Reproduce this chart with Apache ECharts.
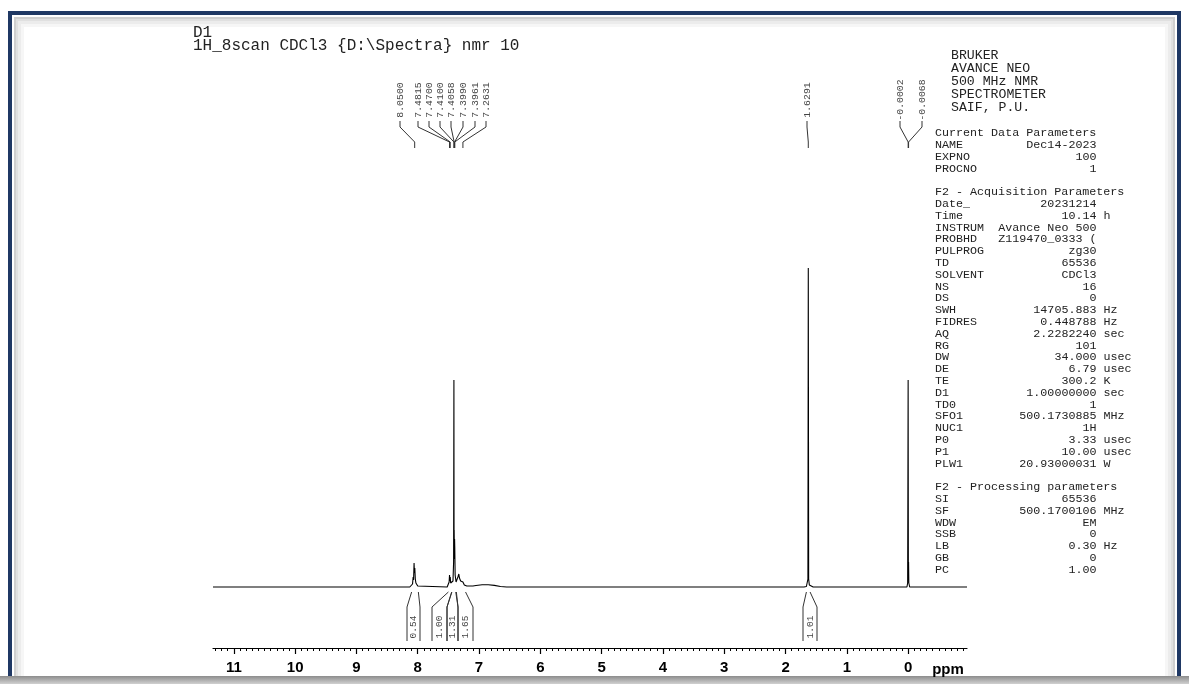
<!DOCTYPE html>
<html><head><meta charset="utf-8">
<script src="https://cdn.jsdelivr.net/npm/echarts@6/dist/echarts.min.js"></script>
<style>html,body{margin:0;padding:0;background:#fff;overflow:hidden}#c{width:1189px;height:684px}</style>
</head><body><div id="c"></div>
<script>
// ---------- DATA ----------
const tickValues = [0, 1, 2, 3, 4, 5, 6, 7, 8, 9, 10, 11];
const spectrumPpm = [11.34, 8.13, 8.10, 8.085, 8.075, 8.068, 8.060, 8.054, 8.048, 8.040, 8.030, 8.015, 8.00, 7.97,
  7.52, 7.50, 7.488, 7.4815, 7.476, 7.47, 7.463, 7.44, 7.425, 7.415, 7.4100, 7.4075, 7.4058, 7.402, 7.3990, 7.3961, 7.390, 7.375,
  7.36, 7.345, 7.33, 7.32, 7.30, 7.2631, 7.24, 7.20, 7.10, 7.05, 6.95, 6.85, 6.75, 6.65, 6.55,
  1.70, 1.66, 1.645, 1.635, 1.6291, 1.623, 1.612, 1.59, 1.55,
  0.92, 0.905, 0.89, 0.12, 0.105, 0.09, 0.02, 0.008, 0.0002, -0.0035, -0.0068, -0.011, -0.025, -0.96];
const spectrumInt = [0, 0, 1, 3, 10, 7, 24, 14, 19, 8, 4, 2, 1, 0,
  0, 1, 5, 12, 6, 10, 4, 3, 6, 25, 207, 45, 57, 28, 48, 40, 12, 5,
  6, 10, 13, 9, 6, 5, 2, 1, 1, 1.5, 2.2, 2.2, 1.6, 0.5, 0,
  0, 0.5, 2, 8, 319, 8, 2, 0.3, 0,
  0, 2, 0, 0, 1.5, 0, 0, 4, 207, 10, 25, 4, 0, 0];
const peakShifts = [8.0500, 7.4815, 7.4700, 7.4100, 7.4058, 7.3990, 7.3961, 7.2631, 1.6291, -0.0002, -0.0068];
const peakLabels = ['8.0500', '7.4815', '7.4700', '7.4100', '7.4058', '7.3990', '7.3961', '7.2631', '1.6291', '-0.0002', '-0.0068'];
const integralFrom = [8.10, 7.50, 7.445, 7.37, 1.66];
const integralTo = [7.99, 7.445, 7.38, 7.22, 1.60];
const integralValues = ['0.54', '1.00', '1.31', '1.65', '1.01'];
const titleLines = ['D1', '1H_8scan CDCl3 {D:\\Spectra} nmr 10'];
const brukerLines = ['BRUKER', 'AVANCE NEO', '500 MHz NMR', 'SPECTROMETER', 'SAIF, P.U.'];
const currentParams = [['NAME', 'Dec14-2023', ''], ['EXPNO', '100', ''], ['PROCNO', '1', '']];
const acqParams = [['Date_', '20231214', ''], ['Time', '10.14', 'h'], ['INSTRUM', 'Avance Neo 500', ''],
  ['PROBHD', 'Z119470_0333 (', ''], ['PULPROG', 'zg30', ''], ['TD', '65536', ''], ['SOLVENT', 'CDCl3', ''],
  ['NS', '16', ''], ['DS', '0', ''], ['SWH', '14705.883', 'Hz'], ['FIDRES', '0.448788', 'Hz'],
  ['AQ', '2.2282240', 'sec'], ['RG', '101', ''], ['DW', '34.000', 'usec'], ['DE', '6.79', 'usec'],
  ['TE', '300.2', 'K'], ['D1', '1.00000000', 'sec'], ['TD0', '1', ''], ['SFO1', '500.1730885', 'MHz'],
  ['NUC1', '1H', ''], ['P0', '3.33', 'usec'], ['P1', '10.00', 'usec'], ['PLW1', '20.93000031', 'W']];
const procParams = [['SI', '65536', ''], ['SF', '500.1700106', 'MHz'], ['WDW', 'EM', ''], ['SSB', '0', ''],
  ['LB', '0.30', 'Hz'], ['GB', '0', ''], ['PC', '1.00', '']];

// ---------- LAYOUT ----------
const AX_MIN = -0.96, AX_MAX = 11.34;
const GRID_LEFT = 213, GRID_RIGHT = 1189 - 967, GRID_TOP = 60, GRID_BOTTOM = 684 - 648;
const Y_MIN = -61, Y_MAX = 527;
const peakLabelX = [400, 418, 429, 440, 451, 463, 475, 486, 807, 900, 922];
const integralBox = [[407, 420], [432, 447], [447, 458], [458, 473], [803, 817]];
const MONO = '"Liberation Mono", "DejaVu Sans Mono", monospace';

const minorTicks = [];
for (let i = -9; i <= 113; i++) minorTicks.push(i / 10);

const chart = echarts.init(document.getElementById('c'), null, {renderer: 'canvas'});
const option = {
  animation: false,
  backgroundColor: '#ffffff',
  grid: {left: GRID_LEFT, right: GRID_RIGHT, top: GRID_TOP, bottom: GRID_BOTTOM, containLabel: false},
  xAxis: [{
    type: 'value', min: AX_MIN, max: AX_MAX, inverse: true, position: 'bottom',
    axisLine: {show: true, onZero: false, lineStyle: {color: '#000', width: 1.2}},
    axisTick: {show: true, customValues: tickValues, length: 6, lineStyle: {color: '#000', width: 1.2}},
    axisLabel: {show: true, customValues: tickValues, margin: 12, color: '#000',
      fontFamily: '"Liberation Sans", Arial, sans-serif', fontWeight: 'bold', fontSize: 15},
    splitLine: {show: false}
  }, {
    type: 'value', min: AX_MIN, max: AX_MAX, inverse: true, position: 'bottom',
    axisLine: {show: false, onZero: false},
    axisTick: {show: true, customValues: minorTicks, length: 3, lineStyle: {color: '#000', width: 1}},
    axisLabel: {show: false}, splitLine: {show: false}
  }],
  yAxis: {type: 'value', min: Y_MIN, max: Y_MAX, show: false, splitLine: {show: false}},
  series: [{
    type: 'line', xAxisIndex: 0, showSymbol: false, symbol: 'none',
    data: spectrumPpm.map((p, i) => [p, spectrumInt[i]]),
    lineStyle: {color: '#000', width: 1.1}, z: 5
  }]
};
chart.setOption(option);

const px = v => chart.convertToPixel({xAxisIndex: 0}, v);
const g = [];
// frame
const shades = [['#cfcfcf', 15, 2], ['#e0e0e0', 17, 2], ['#ececec', 19.5, 3], ['#f6f6f6', 22.5, 3]];
shades.forEach(s => g.push({type: 'rect', shape: {x: s[1], y: s[1] + 3, width: 1189 - 2 * s[1], height: 700}, style: {fill: null, stroke: s[0], lineWidth: s[2]}, z: 1}));
g.push({type: 'rect', shape: {x: 10, y: 13, width: 1169, height: 700}, style: {fill: null, stroke: '#1f3864', lineWidth: 4}, z: 2});
g.push({type: 'rect', shape: {x: 0, y: 676, width: 1189, height: 8}, style: {fill: new echarts.graphic.LinearGradient(0, 0, 0, 1, [{offset: 0, color: '#8c8c8c'}, {offset: 1, color: '#d0d0d0'}])}, z: 3});

// title
titleLines.forEach((t, i) => g.push({type: 'text', x: 193, y: 33 + i * 13, style: {text: t, font: '16px ' + MONO, fill: '#222', textVerticalAlign: 'middle'}, z: 10}));

// right panel
const PX0 = 935, VAL_RIGHT = PX0 + 23 * 7.02, ROW0 = 62.2, ROWH = 11.8;
const FONT = '11.7px ' + MONO;
const row = i => ROW0 + i * ROWH;
brukerLines.forEach((t, i) => g.push({type: 'text', x: PX0 + 16, y: 108 - (brukerLines.length - 1 - i) * 13.2, style: {text: t, font: '13.2px ' + MONO, fill: '#222', textVerticalAlign: 'middle'}, z: 10}));
function block(header, items, start) {
  g.push({type: 'text', x: PX0, y: row(start), style: {text: header, font: FONT, fill: '#222', textVerticalAlign: 'middle'}, z: 10});
  items.forEach((it, k) => {
    const y = row(start + 1 + k);
    g.push({type: 'text', x: PX0, y, style: {text: it[0], font: FONT, fill: '#222', textVerticalAlign: 'middle'}, z: 10});
    g.push({type: 'text', x: VAL_RIGHT, y, style: {text: it[1], font: FONT, fill: '#222', textAlign: 'right', textVerticalAlign: 'middle'}, z: 10});
    if (it[2]) g.push({type: 'text', x: VAL_RIGHT + 7, y, style: {text: it[2], font: FONT, fill: '#222', textVerticalAlign: 'middle'}, z: 10});
  });
}
block('Current Data Parameters', currentParams, 6);
block('F2 - Acquisition Parameters', acqParams, 11);
block('F2 - Processing parameters', procParams, 36);

// peak labels
peakShifts.forEach((s, i) => {
  const lx = peakLabelX[i], pxx = px(s);
  g.push({type: 'text', x: lx, y: 100, rotation: Math.PI / 2, style: {text: peakLabels[i], font: '9.8px ' + MONO, fill: '#444', textAlign: 'center', textVerticalAlign: 'middle'}, z: 10});
  g.push({type: 'polyline', shape: {points: [[lx, 121], [lx, 127], [pxx, 142], [pxx, 148]]}, style: {stroke: '#333', lineWidth: 1, fill: null}, z: 10});
});

// integrals
integralValues.forEach((v, i) => {
  const a = px(integralFrom[i]), b = px(integralTo[i]);
  const L = integralBox[i][0], R = integralBox[i][1];
  g.push({type: 'polyline', shape: {points: [[a, 592], [L, 607], [L, 641]]}, style: {stroke: '#333', lineWidth: 1, fill: null}, z: 10});
  g.push({type: 'polyline', shape: {points: [[b, 592], [R, 607], [R, 641]]}, style: {stroke: '#333', lineWidth: 1, fill: null}, z: 10});
  g.push({type: 'text', x: (L + R) / 2, y: 627, rotation: Math.PI / 2, style: {text: v, font: '9.5px ' + MONO, fill: '#444', textAlign: 'center', textVerticalAlign: 'middle'}, z: 10});
});

// ppm unit
g.push({type: 'text', x: 948, y: 670, style: {text: 'ppm', font: 'bold 15px "Liberation Sans", Arial, sans-serif', fill: '#000', textAlign: 'center', textVerticalAlign: 'middle'}, z: 10});

chart.setOption({graphic: g});
</script>
</body></html>
